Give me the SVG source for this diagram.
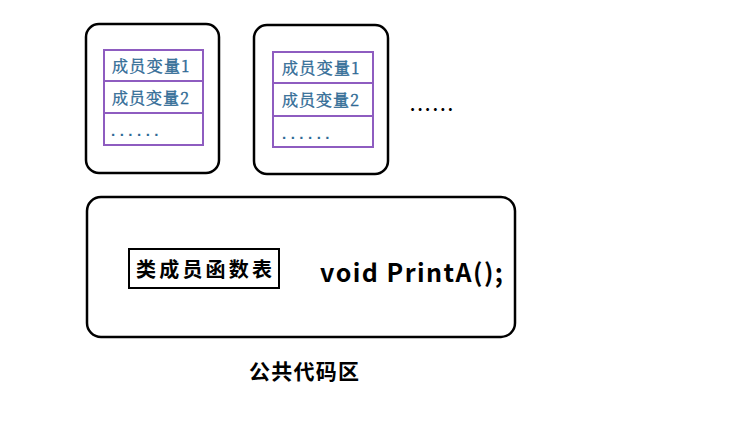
<svg xmlns="http://www.w3.org/2000/svg" width="730" height="421" viewBox="0 0 730 421">
<style>
.obj{fill:#fff;stroke:#000;stroke-width:2.5}
.tbl{fill:#fff;stroke:#8e5cc0;stroke-width:2}
.mv{font-family:"Noto Serif CJK SC","Noto Sans CJK SC",serif;font-size:16px;fill:#2f6a95;stroke:#2f6a95;stroke-width:0.4}
.dots{font-family:"Liberation Sans",sans-serif;font-size:15px;font-weight:bold;fill:#2f6a95;letter-spacing:4.5px}
.b{font-family:"Noto Sans CJK SC","Noto Sans",sans-serif;font-weight:bold;fill:#000}
</style>
<rect width="730" height="421" fill="#fff"/>
<g id="obj1">
<rect class="obj" x="86" y="24" width="133" height="149" rx="13"/>
<rect class="tbl" x="104" y="50" width="99" height="95"/>
<line class="tbl" x1="104" y1="81" x2="203" y2="81"/>
<line class="tbl" x1="104" y1="113" x2="203" y2="113"/>
<text class="mv" x="112" y="72" textLength="77">成员变量1</text>
<text class="mv" x="112" y="104" textLength="77">成员变量2</text>
<text class="dots" x="111" y="136">......</text>
</g>
<g id="obj2">
<rect class="obj" x="254" y="25" width="134" height="149" rx="13"/>
<rect class="tbl" x="273" y="52" width="100" height="95"/>
<line class="tbl" x1="273" y1="83" x2="373" y2="83"/>
<line class="tbl" x1="273" y1="116" x2="373" y2="116"/>
<text class="mv" x="282" y="74" textLength="77">成员变量1</text>
<text class="mv" x="282" y="106" textLength="77">成员变量2</text>
<text class="dots" x="282" y="139">......</text>
</g>
<g id="more">
<text class="b" x="410" y="111" font-size="16" textLength="43">......</text>
</g>
<g id="code">
<rect class="obj" x="87" y="197" width="428" height="140" rx="14"/>
<rect x="129" y="249" width="150" height="39" fill="#fff" stroke="#000" stroke-width="2"/>
<text class="b" x="204" y="277" font-size="20" text-anchor="middle" textLength="136">类成员函数表</text>
<text class="b" x="320" y="282" font-size="25" textLength="183" font-family="'Open Sans',sans-serif">void PrintA();</text>
</g>
<g id="label">
<text class="b" x="249" y="379" font-size="21" textLength="110">公共代码区</text>
</g>
<g id="connectors"/>
</svg>
